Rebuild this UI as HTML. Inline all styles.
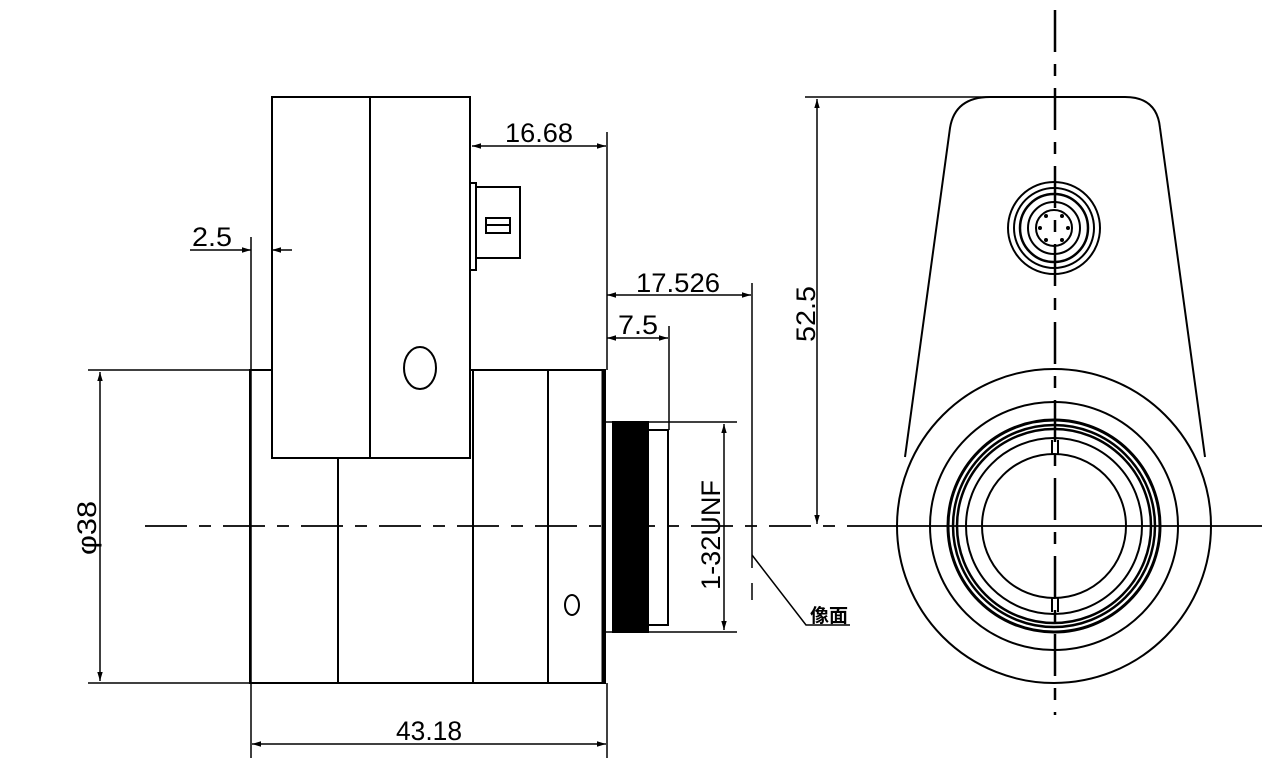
<!DOCTYPE html>
<html><head><meta charset="utf-8"><style>
html,body{margin:0;padding:0;background:#fff;width:1280px;height:771px;overflow:hidden}
svg{display:block}
text{font-family:"Liberation Sans Narrow","Liberation Sans","Noto Sans CJK SC",sans-serif;fill:#000}
</style></head><body>
<svg width="1280" height="771" viewBox="0 0 1280 771" xmlns="http://www.w3.org/2000/svg">
<defs>
<marker id="a" viewBox="0 0 10 10" refX="10" refY="5" markerWidth="9" markerHeight="6" orient="auto-start-reverse"><path d="M0,2 L10,5 L0,8 z" fill="#000"/></marker>
</defs>
<g stroke="#000" stroke-width="2" fill="none">
<line x1="145" y1="526" x2="880" y2="526" stroke-width="1.8" stroke-dasharray="42,12,12,12"/>
<!-- main body -->
<rect x="250" y="370" width="355" height="313"/>
<line x1="338" y1="458" x2="338" y2="683"/>
<line x1="473" y1="370" x2="473" y2="683"/>
<line x1="548" y1="370" x2="548" y2="683"/>
<line x1="603" y1="370" x2="603" y2="683" stroke-width="3"/>
<rect x="272" y="97" width="198" height="361" fill="#fff"/>
<line x1="370" y1="97" x2="370" y2="458"/>
<ellipse cx="420" cy="368" rx="16" ry="21"/>
<ellipse cx="572" cy="605" rx="7" ry="10"/>
<rect x="470" y="183" width="6" height="87"/>
<rect x="476" y="187" width="44" height="71"/>
<rect x="486" y="218" width="24" height="15"/>
<line x1="486" y1="225" x2="510" y2="225"/>
<rect x="613" y="422" width="35" height="210" fill="#000"/>
<rect x="648" y="430" width="20" height="195"/>
<line x1="605" y1="422" x2="737" y2="422" stroke-width="1.5"/>
<line x1="605" y1="632" x2="737" y2="632" stroke-width="1.5"/>
<line x1="724" y1="424" x2="724" y2="630" stroke-width="1.5" marker-start="url(#a)" marker-end="url(#a)"/>
<line x1="251" y1="237" x2="251" y2="758" stroke-width="1.5"/>
<line x1="190" y1="250" x2="251" y2="250" stroke-width="1.5" marker-end="url(#a)"/>
<line x1="292" y1="250" x2="272" y2="250" stroke-width="1.5" marker-end="url(#a)"/>
<line x1="88" y1="370" x2="250" y2="370" stroke-width="1.5"/>
<line x1="88" y1="683" x2="250" y2="683" stroke-width="1.5"/>
<line x1="100" y1="372" x2="100" y2="681" stroke-width="1.5" marker-start="url(#a)" marker-end="url(#a)"/>
<line x1="607" y1="683" x2="607" y2="758" stroke-width="1.5"/>
<line x1="252" y1="744" x2="606" y2="744" stroke-width="1.5" marker-start="url(#a)" marker-end="url(#a)"/>
<line x1="607" y1="132" x2="607" y2="370" stroke-width="1.5"/>
<line x1="472" y1="146" x2="606" y2="146" stroke-width="1.5" marker-start="url(#a)" marker-end="url(#a)"/>
<line x1="607" y1="295" x2="751" y2="295" stroke-width="1.5" marker-start="url(#a)" marker-end="url(#a)"/>
<line x1="752" y1="283" x2="752" y2="568" stroke-width="1.5"/>
<line x1="752" y1="583" x2="752" y2="600" stroke-width="1.5"/>
<line x1="607" y1="338" x2="668" y2="338" stroke-width="1.5" marker-start="url(#a)" marker-end="url(#a)"/>
<line x1="669" y1="326" x2="669" y2="430" stroke-width="1.5"/>
<polyline points="752,555 806,625 850,625" stroke-width="1.5"/>
<line x1="805" y1="97" x2="990" y2="97" stroke-width="1.5"/>
<line x1="817" y1="99" x2="817" y2="524" stroke-width="1.5" marker-start="url(#a)" marker-end="url(#a)"/>
<!-- right view -->
<path d="M905,457 L950,128 Q955,97 990,97 L1125,97 Q1157,97 1160,128 L1205,457" />
<circle cx="1054" cy="526" r="157" fill="#fff"/>
<circle cx="1054" cy="526" r="124"/>
<circle cx="1054" cy="526" r="106" stroke-width="3"/>
<circle cx="1054" cy="526" r="101" stroke-width="2.5"/>
<circle cx="1054" cy="526" r="97" stroke-width="2.5"/>
<circle cx="1054" cy="526" r="88"/>
<circle cx="1054" cy="526" r="72"/>
<line x1="1052" y1="440" x2="1052" y2="454"/><line x1="1058" y1="440" x2="1058" y2="454"/>
<line x1="1052" y1="598" x2="1052" y2="612"/><line x1="1058" y1="598" x2="1058" y2="612"/>
<line x1="880" y1="526" x2="1262" y2="526" stroke-width="1.8"/>
<circle cx="1054" cy="228" r="46"/>
<circle cx="1054" cy="228" r="40"/>
<circle cx="1054" cy="228" r="34" stroke-width="2.5"/>
<circle cx="1054" cy="228" r="26"/>
<circle cx="1054" cy="228" r="18"/>
<line x1="1055" y1="10" x2="1055" y2="715" stroke-width="2.5" stroke-dasharray="42,12,12,12"/>
</g>
<g fill="#000">
<circle cx="1046" cy="216" r="2"/><circle cx="1062" cy="216" r="2"/>
<circle cx="1040" cy="228" r="2"/><circle cx="1068" cy="228" r="2"/>
<circle cx="1046" cy="240" r="2"/><circle cx="1062" cy="240" r="2"/>
</g>
<g font-size="27">
<text x="505" y="142" textLength="68" lengthAdjust="spacingAndGlyphs">16.68</text>
<text x="192" y="246" textLength="40" lengthAdjust="spacingAndGlyphs">2.5</text>
<text x="636" y="292" textLength="84" lengthAdjust="spacingAndGlyphs">17.526</text>
<text x="618" y="334" textLength="40" lengthAdjust="spacingAndGlyphs">7.5</text>
<text x="396" y="740" textLength="66" lengthAdjust="spacingAndGlyphs">43.18</text>
<text transform="translate(96,555) rotate(-90)" textLength="54" lengthAdjust="spacingAndGlyphs">φ38</text>
<text transform="translate(720,590) rotate(-90)" textLength="110" lengthAdjust="spacingAndGlyphs">1-32UNF</text>
<text transform="translate(815,342) rotate(-90)" textLength="56" lengthAdjust="spacingAndGlyphs">52.5</text>
<text x="810" y="622" font-size="19" font-weight="bold">像面</text>
</g>
</svg>
</body></html>
